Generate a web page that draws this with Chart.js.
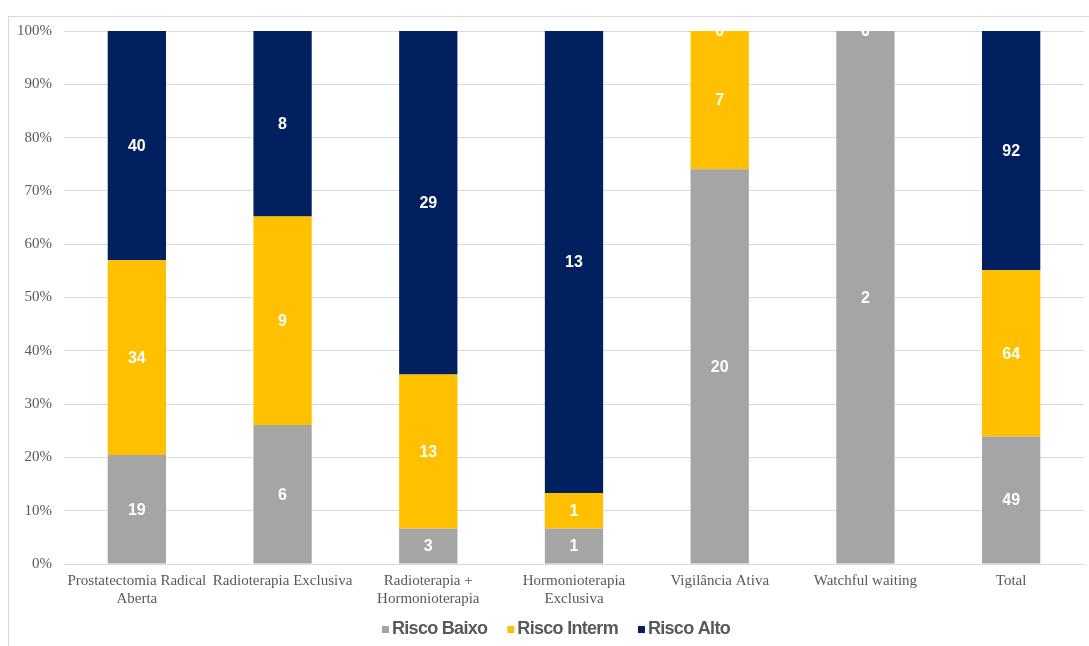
<!DOCTYPE html>
<html lang="pt">
<head>
<meta charset="utf-8">
<title>Risco por tratamento</title>
<script src="https://cdn.jsdelivr.net/npm/chart.js@4.4.1/dist/chart.umd.min.js"></script>
<style>
  html, body { margin: 0; padding: 0; background: #ffffff; }
  #wrap { width: 1089px; height: 646px; position: relative; }
</style>
</head>
<body>
<div id="wrap"><canvas id="chart" width="1089" height="646"></canvas></div>
<script>
// Tratamentos (categorias do eixo X)
const categories = [
  ["Prostatectomia Radical", "Aberta"],
  "Radioterapia Exclusiva",
  ["Radioterapia +", "Hormonioterapia"],
  ["Hormonioterapia", "Exclusiva"],
  "Vigilância Ativa",
  "Watchful waiting",
  "Total"
];

// Número de doentes por grupo de risco
const riscoBaixo  = [19, 6, 3, 1, 20, 2, 49];
const riscoInterm = [34, 9, 13, 1, 7, 0, 64];
const riscoAlto   = [40, 8, 29, 13, 0, 0, 92];

const seriesNames = ["Risco Baixo", "Risco Interm", "Risco Alto"];
const seriesColors = ["#A5A5A5", "#FFC000", "#002060"];

// Ticks do eixo Y (percentagem)
const yTicks = [0, 10, 20, 30, 40, 50, 60, 70, 80, 90, 100];

// Totais por tratamento, para converter contagens em percentagem
const totals = categories.map((_, i) => riscoBaixo[i] + riscoInterm[i] + riscoAlto[i]);
const toPct = arr => arr.map((v, i) => totals[i] ? v / totals[i] * 100 : 0);

const counts = [riscoBaixo, riscoInterm, riscoAlto];

const datasets = counts.map((arr, k) => ({
  label: seriesNames[k],
  data: toPct(arr),
  counts: arr,
  backgroundColor: seriesColors[k],
  borderWidth: 0,
  categoryPercentage: 0.4,
  barPercentage: 1.0
}));

// Moldura exterior cinzenta
const framePlugin = {
  id: 'frame',
  beforeDraw(chart) {
    const ctx = chart.ctx;
    ctx.save();
    ctx.fillStyle = '#ffffff';
    ctx.fillRect(0, 0, chart.width, chart.height);
    ctx.strokeStyle = '#D9D9D9';
    ctx.lineWidth = 1;
    ctx.strokeRect(8.5, 16.5, 1200, 700);
    ctx.restore();
  }
};

// Contagens escritas no centro de cada segmento
const countLabelsPlugin = {
  id: 'countLabels',
  afterDatasetsDraw(chart) {
    const ctx = chart.ctx;
    const area = chart.chartArea;
    ctx.save();
    ctx.beginPath();
    ctx.rect(area.left, area.top, area.right - area.left, area.bottom - area.top);
    ctx.clip();
    ctx.font = 'bold 16px "Liberation Sans", Arial, sans-serif';
    ctx.fillStyle = '#ffffff';
    ctx.textAlign = 'center';
    ctx.textBaseline = 'middle';
    chart.data.datasets.forEach((ds, di) => {
      const meta = chart.getDatasetMeta(di);
      meta.data.forEach((bar, i) => {
        const yMid = (bar.y + bar.base) / 2;
        ctx.fillText(String(ds.counts[i]), bar.x, yMid + 1);
      });
    });
    ctx.restore();
  }
};

// Legenda inferior
const legendPlugin = {
  id: 'bottomLegend',
  afterDraw(chart) {
    const ctx = chart.ctx;
    ctx.save();
    ctx.font = 'bold 18px "Liberation Sans", Arial, sans-serif';
    if ('letterSpacing' in ctx) ctx.letterSpacing = '-0.7px';
    ctx.textBaseline = 'middle';
    ctx.textAlign = 'left';
    const box = 7, gapText = 3, gapItem = 20, yMid = 629;
    let x = 382;
    chart.data.datasets.forEach(ds => {
      ctx.fillStyle = ds.backgroundColor;
      ctx.fillRect(x, yMid - 3, box, box);
      x += box + gapText;
      ctx.fillStyle = '#595959';
      ctx.fillText(ds.label, x, yMid);
      x += ctx.measureText(ds.label).width + gapItem;
    });
    ctx.restore();
  }
};

new Chart(document.getElementById('chart'), {
  type: 'bar',
  data: { labels: categories, datasets },
  options: {
    responsive: false,
    animation: false,
    layout: { padding: { left: 0, right: 5, top: 31, bottom: 0 } },
    plugins: {
      legend: { display: false },
      tooltip: { enabled: false }
    },
    scales: {
      x: {
        stacked: true,
        grid: { display: false, drawTicks: false },
        border: { display: true, color: '#D9D9D9', width: 1 },
        ticks: {
          color: '#595959',
          font: { family: '"Liberation Serif", "Times New Roman", serif', size: 15 },
          padding: 8,
          maxRotation: 0,
          autoSkip: false
        },
        afterFit(scale) { scale.height = 82; }
      },
      y: {
        stacked: true,
        min: 0,
        max: 100,
        afterBuildTicks(scale) { scale.ticks = yTicks.map(v => ({ value: v })); },
        grid: { color: '#D9D9D9', lineWidth: 1, drawTicks: false },
        border: { display: false },
        ticks: {
          color: '#595959',
          font: { family: '"Liberation Serif", "Times New Roman", serif', size: 15 },
          padding: 12,
          callback: v => v + '%'
        },
        afterFit(scale) { scale.width = 64; }
      }
    }
  },
  plugins: [framePlugin, countLabelsPlugin, legendPlugin]
});
</script>
</body>
</html>
